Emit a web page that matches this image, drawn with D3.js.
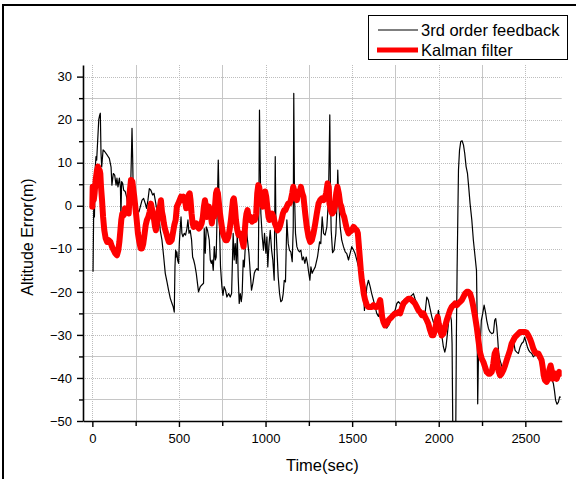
<!DOCTYPE html>
<html><head><meta charset="utf-8">
<script src="https://cdn.jsdelivr.net/npm/d3@7"></script>
<style>body{margin:0;background:#fff}svg{display:block}text{font-family:"Liberation Sans",Arial,sans-serif}</style>
</head><body><svg id="c" width="576" height="479"></svg>
<script>
const xTicks=[0,500,1000,1500,2000,2500];
const xMinor=[250,750,1250,1750,2250];
const yTicks=[-50,-40,-30,-20,-10,0,10,20,30];
const yMinor=[-45,-35,-25,-15,-5,5,15,25];
const seriesNames=["3rd order feedback","Kalman filter"];
const xTitle="Time(sec)", yTitle="Altitude Error(m)";

const fbTime=[4,8,12,17,21,25,31,37,42,46,50,54,62,71,85,98,108,113,121,129,137,142,148,156,162,165,169,175,181,190,198,204,210,219,225,229,233,237,246,258,269,277,287,296,306,313,321,329,338,348,356,363,371,379,387,392,402,412,421,431,440,450,460,467,473,477,481,485,488,492,498,502,508,512,517,523,531,538,546,552,558,565,573,579,585,592,600,613,623,642,646,652,658,665,675,681,687,692,698,704,710,715,723,727,731,735,740,748,754,761,769,777,787,796,804,810,813,819,825,831,837,842,848,854,860,865,871,877,883,888,896,904,912,919,927,935,942,950,958,962,965,969,973,981,988,994,1002,1008,1013,1019,1027,1035,1042,1050,1056,1060,1065,1073,1081,1088,1096,1102,1108,1115,1123,1131,1138,1146,1154,1160,1163,1167,1173,1181,1188,1196,1204,1212,1219,1227,1235,1242,1250,1256,1262,1269,1277,1287,1300,1312,1319,1327,1335,1344,1354,1363,1367,1371,1375,1379,1387,1396,1406,1412,1417,1423,1431,1440,1450,1460,1469,1479,1488,1498,1508,1517,1527,1537,1546,1556,1565,1571,1577,1585,1594,1604,1613,1623,1633,1642,1652,1662,1671,1681,1690,1700,1710,1719,1729,1738,1748,1758,1767,1777,1786,1796,1806,1815,1825,1835,1844,1854,1863,1873,1883,1892,1902,1912,1921,1931,1940,1950,1960,1969,1979,1988,1998,2004,2012,2019,2027,2035,2042,2050,2058,2065,2073,2077,2083,2097,2102,2106,2110,2114,2120,2127,2135,2143,2150,2158,2166,2173,2181,2191,2200,2210,2218,2221,2225,2229,2233,2239,2246,2254,2262,2270,2277,2287,2296,2306,2316,2323,2329,2335,2341,2346,2354,2370,2390,2405,2421,2431,2441,2450,2460,2470,2479,2489,2496,2504,2512,2520,2527,2537,2546,2556,2566,2575,2585,2595,2604,2614,2623,2633,2643,2652,2662,2668,2675,2683,2691,2698,2704];
const fbErr=[-15.3,-0.2,-2.6,9,11.4,10.6,15.3,20,21,21.5,12.2,9,13,12.6,11.8,11,9,4.8,7.5,7.1,4.8,6.4,4.4,6.4,4.4,-2.6,5.6,5.2,3.6,3.3,2,0.5,-0.2,1.3,10.6,18,10.6,0.5,-1.8,-1,-1.4,-0.2,1.3,1.7,0.5,-0.6,1.3,4,3.6,2.5,2.9,1.3,-0.6,-2.6,-3.3,-5.7,-8,-11.9,-15.7,-17.7,-19.6,-21.5,-22.7,-23.5,-24.7,-14.2,-10.3,-11.9,-10.7,-12.6,-13.4,-8.8,-4.9,-2.6,-6.4,-7.2,-6.4,-6.8,-5.3,-3.3,-6.4,-5.7,-8,-11.9,-12.6,-13.8,-15.7,-20,-18.8,-18,-5.3,-11,-4.9,-5.7,-8,-12.6,-13.4,-12.6,-15,-9.5,-12.6,-11.9,2.9,10.6,2.9,-6.4,-14.2,-18.8,-20.8,-18.8,-19.6,-21.2,-20.4,-21.2,-20.4,-11,-6.4,-12.6,-8.8,-13.4,-6.4,-16.5,-22.7,-20.4,-22.3,-20.4,-12.6,-14.2,-9.5,-4.9,-8,-11,-15.7,-19.6,-18,-15.7,-15,-14.6,-15,2.9,22.2,10.6,-1.8,-7.2,-10.3,-6.4,-11,-7.2,-14.2,-9.5,-5.7,-10.3,-12.6,-17.3,11.4,-4.9,-9.5,-16.5,-20.4,-22.3,-21.9,-20.4,-17.3,-17.7,-3.3,-8.8,-10.3,-10.7,-13,-4.9,26.1,2.9,-6.4,-9.5,-10.3,-10.7,-10.3,-12.6,-11.9,-13.4,-11.9,-13.4,-15.7,-17.3,-14.2,-15.7,-15,-14.2,-11.9,-8.4,-8.8,-2.6,-6.4,-6.8,-4.9,1.3,10.6,21.1,2.9,-5.7,-10.9,-10.3,-6.4,-0.2,8.3,0.5,-4.9,-8,-9.5,-10.7,-11.1,-12.6,-11.1,-9.5,-10.3,-11.1,-12.6,-14.2,-15.7,-17.3,-19.6,-24.3,-21.9,-18.8,-17.3,-18.8,-20.4,-21.9,-23.5,-25,-25.7,-24.3,-25,-27,-28.1,-28.4,-27.8,-27,-25.8,-25,-24.3,-22.7,-22.3,-22.7,-23.5,-21.9,-23.1,-21.9,-21.6,-21.2,-20.8,-20.4,-21.6,-22.7,-23.9,-24.7,-25.4,-25.8,-25,-21.2,-21.9,-23.9,-25.8,-27,-27.4,-27,-24.3,-25.8,-28.1,-30.5,-32.8,-34,-32.8,-29.7,-26.6,-25,-26.6,-32,-60,-60,-30,-15,-3.3,8.3,12.9,14.9,15.1,14.1,12.2,9.1,7.5,4.4,0.5,-3.3,-8,-11.9,-15,-23.5,-46,-35.9,-34.3,-32.8,-26.6,-25,-23.1,-24.7,-26.6,-28.5,-29.3,-29.7,-29.5,-26.6,-26.2,-28.1,-31.2,-34.3,-35.9,-38,-37,-35,-32.8,-31.2,-33.6,-34,-34.3,-32.8,-32,-31.6,-30.5,-31.6,-32.8,-33.6,-34,-34.3,-35.1,-34.7,-34.3,-35.5,-35.9,-37.1,-39,-40.2,-40.5,-40.2,-39.8,-40.2,-41.3,-42.9,-45.2,-46.1,-45.6,-44.4,-44.5];

const kfTime=[0,2,8,13,19,27,33,38,42,46,50,56,62,69,77,85,94,104,113,123,133,142,150,156,162,167,173,181,188,196,204,210,215,223,231,237,242,248,256,263,271,279,287,294,302,308,315,323,331,338,346,354,362,367,373,379,385,390,396,402,408,413,419,427,435,442,450,458,465,473,481,488,496,504,512,519,527,535,542,550,556,562,567,573,579,585,592,600,608,615,623,631,638,644,650,656,662,667,673,679,685,690,696,702,708,714,719,725,731,737,742,748,754,761,769,777,785,792,800,806,812,817,823,829,837,844,852,860,867,873,879,885,890,896,902,908,915,923,931,938,946,952,958,963,969,977,985,992,998,1004,1010,1017,1023,1031,1038,1046,1054,1062,1069,1077,1085,1092,1100,1108,1115,1123,1131,1138,1146,1154,1160,1165,1173,1181,1188,1196,1204,1212,1219,1229,1238,1248,1258,1267,1277,1287,1296,1306,1315,1325,1335,1344,1350,1358,1365,1369,1377,1385,1392,1400,1408,1415,1423,1431,1438,1446,1454,1462,1469,1479,1488,1498,1508,1517,1527,1533,1538,1544,1550,1556,1562,1567,1575,1585,1594,1604,1613,1623,1633,1642,1652,1662,1667,1673,1681,1690,1700,1710,1719,1729,1738,1748,1758,1767,1777,1786,1796,1806,1815,1825,1835,1844,1854,1863,1873,1883,1892,1902,1912,1921,1931,1940,1950,1960,1969,1979,1988,1994,2000,2008,2017,2027,2036,2046,2056,2065,2075,2085,2094,2104,2113,2123,2133,2142,2152,2162,2171,2181,2190,2200,2210,2219,2229,2238,2248,2258,2267,2277,2287,2296,2306,2315,2323,2331,2337,2344,2354,2363,2373,2383,2392,2402,2411,2421,2431,2440,2450,2460,2469,2479,2488,2498,2508,2517,2527,2537,2546,2556,2565,2575,2585,2594,2600,2606,2613,2623,2633,2638,2646,2652,2658,2665,2673,2681,2688,2696,2702];
const kfErr=[-0.2,4.4,1.3,2.9,6,8.3,9.1,6.7,8.3,7.5,4.4,1.3,-2.6,-5.7,-7.6,-8.4,-8,-8.4,-9.5,-10.3,-11.1,-11.5,-10.3,-8.4,-5.7,-3.3,-1.8,-2.2,-0.6,-1.4,-0.6,-1.8,2.9,6,5.6,3.6,2.1,-0.2,-3.3,-6.4,-8.4,-9.9,-9.9,-8.8,-6.4,-4.5,-3.3,-2.6,-1.4,0.5,-1,-2.6,-4.9,-5.7,-4.1,-2.6,-0.6,-0.2,1.3,-1.4,-2.6,-4.1,-5.3,-6.4,-7.6,-8.4,-8.4,-8,-6.4,-4.5,-3.3,-0.2,0.5,1.3,2.1,1.3,2.1,1.3,-0.6,1.3,2.5,2.9,1.3,-1.8,-4.1,-4.9,-4.5,-4.1,-4.9,-5.3,-4.9,-4.1,-2.6,-0.2,1.3,-0.2,-2.6,-1,-0.2,-1.4,-2.6,-4.1,-1.8,-2.6,-0.2,2.9,3.6,2.9,0.5,-1.8,-3.3,-4.9,-6.4,-7.2,-8,-8,-7.2,-5.7,-3.3,-1,1.3,1.7,-0.2,-3.3,-5.7,-6.8,-6.4,-7.2,-8.4,-9.5,-6.4,-3.3,-1.8,-1,-2.6,-3.3,-2.6,-3.7,-2.9,-3.3,-1.8,2.9,4.8,4.4,2.9,0.5,-0.2,2.1,3.3,2.1,-0.2,-2.6,-3.3,-2.6,-1.8,-2.6,-4.1,-4.9,-5.7,-5.3,-4.5,-3.3,-1.8,-1,-1,-0.2,0.5,0.5,1.3,2.9,4.4,3.6,2.9,1.3,3.3,2.9,4.4,2.9,2.1,-1.8,-4.9,-7.2,-8.4,-8,-6.4,-4.1,-1.8,0.5,1.3,1.7,1.3,2.1,2.9,5.2,4.4,0.5,-1,-1.8,-1.4,-0.2,2.9,4.4,2.9,0.5,-0.2,-1.8,-2.6,-4.1,-5.3,-6.4,-6,-5.7,-4.9,-5.3,-5.7,-6.4,-8.8,-11.9,-15,-17.3,-18.8,-20.4,-21.9,-23.1,-23.5,-23.5,-23.5,-23.1,-23.5,-23.5,-23.1,-21.9,-23.5,-25.8,-27,-27.8,-27.4,-26.6,-26.2,-25.8,-25.4,-25,-25,-24.7,-25,-23.9,-22.7,-22.3,-21.9,-21.6,-21.6,-21.9,-22.3,-22.7,-23.5,-24.3,-24.7,-25.4,-25,-25.8,-26.6,-27.4,-28.9,-30.1,-30.1,-28.9,-26.6,-25.8,-27.4,-28.9,-30.1,-29.7,-28.1,-26.6,-25.4,-24.3,-23.5,-23.1,-22.7,-23.1,-22.7,-22.3,-21.9,-21.2,-20.4,-20,-20,-20.4,-21.6,-23.5,-25.8,-28.1,-31.2,-34,-35.5,-36.3,-37.4,-38.6,-39,-39,-38.6,-36.7,-34.3,-33.6,-35.9,-38.2,-39.4,-39,-38.2,-37.1,-35.9,-34.7,-33.6,-32,-31.2,-30.5,-30.1,-29.7,-29.3,-29.3,-29.3,-29.3,-29.5,-30.1,-30.9,-32,-33.2,-34,-34.3,-34.3,-35.1,-35.9,-37.4,-39.4,-40.5,-40.9,-40.2,-38.2,-37.1,-38.2,-40.2,-39.8,-39,-40.2,-39.4,-38.6,-39];

const svg=d3.select("#c");
const L=83,R=561.7,T=65,B=421;
const x=d3.scaleLinear().domain([-54,2710]).range([L,R]);
const y=d3.scaleLinear().domain([-50,32.7]).range([B,T]);
const px=v=>Math.round(x(v))+0.5, py=v=>Math.round(y(v))+0.5;

svg.append("rect").attr("x",3).attr("y",5).attr("width",590).attr("height",490)
  .attr("fill","#fff").attr("stroke","#000").attr("stroke-width",2);

const grid=svg.append("g");
grid.selectAll(".vmn").data(xMinor).join("line").attr("x1",px).attr("x2",px).attr("y1",T).attr("y2",B)
  .attr("stroke","#c6c6c6").attr("stroke-width",1);
grid.selectAll(".vmj").data(xTicks).join("line").attr("x1",px).attr("x2",px).attr("y1",T).attr("y2",B)
  .attr("stroke","#bdbdbd").attr("stroke-width",1).attr("stroke-dasharray","1,1");
grid.selectAll(".hmn").data(yMinor).join("line").attr("y1",py).attr("y2",py).attr("x1",L).attr("x2",R)
  .attr("stroke","#c6c6c6").attr("stroke-width",1);
grid.selectAll(".hmj").data(yTicks.filter(d=>d>-50)).join("line").attr("y1",py).attr("y2",py).attr("x1",L).attr("x2",R)
  .attr("stroke","#bdbdbd").attr("stroke-width",1).attr("stroke-dasharray","1,1");

svg.append("clipPath").attr("id","clip").append("rect").attr("x",L).attr("y",T).attr("width",R-L).attr("height",B-T);
const line=d3.line().x(d=>x(d[0])).y(d=>y(d[1]));
const fb=fbTime.map((t,i)=>[t,fbErr[i]]);
const kf=kfTime.map((t,i)=>[t,kfErr[i]]);
const plot=svg.append("g").attr("clip-path","url(#clip)");
plot.append("path").datum(fb).attr("d",line).attr("fill","none").attr("stroke","#000").attr("stroke-width",1.2).attr("stroke-linejoin","round");
plot.append("path").datum(kf).attr("d",line).attr("fill","none").attr("stroke","#ff0000").attr("stroke-width",6).attr("stroke-linejoin","round").attr("stroke-linecap","round");

function styleAxis(g){
  g.select(".domain").attr("stroke","#000").attr("stroke-width",1.6);
  g.selectAll(".tick line").attr("stroke","#000").attr("stroke-width",1.4);
  g.selectAll(".tick text").attr("fill","#000").style("font-size","13px").style("font-family","'Liberation Sans',Arial,sans-serif");
}
const yMin=svg.append("g").attr("transform",`translate(${L},0)`).call(d3.axisLeft(y).tickValues(yMinor).tickSize(4).tickFormat(""));
yMin.select(".domain").remove(); yMin.selectAll(".tick line").attr("stroke","#000").attr("stroke-width",1.4);
const xMin=svg.append("g").attr("transform",`translate(0,${B})`).call(d3.axisBottom(x).tickValues(xMinor).tickSize(5).tickFormat(""));
xMin.select(".domain").remove(); xMin.selectAll(".tick line").attr("stroke","#000").attr("stroke-width",1.4);
svg.append("g").attr("transform",`translate(${L},0)`).call(d3.axisLeft(y).tickValues(yTicks).tickSize(6).tickSizeOuter(0).tickPadding(5).tickFormat(d3.format("d"))).call(styleAxis);
svg.append("g").attr("transform",`translate(0,${B})`).call(d3.axisBottom(x).tickValues(xTicks).tickSize(6).tickSizeOuter(0).tickPadding(7).tickFormat(d3.format("d"))).call(styleAxis);

svg.append("text").attr("transform",`translate(27,${(T+B)/2-6}) rotate(-90)`).attr("text-anchor","middle").attr("dy","0.35em")
  .style("font-size","16px").text(yTitle);
svg.append("text").attr("x",(L+R)/2).attr("y",471).attr("text-anchor","middle").style("font-size","16.5px").text(xTitle);

const lg=svg.append("g");
lg.append("rect").attr("x",368.5).attr("y",15.5).attr("width",199).attr("height",44).attr("fill","#fff").attr("stroke","#000").attr("stroke-width",1);
const lgColors=["#000","#ff0000"], lgW=[1.2,5];
seriesNames.forEach((n,i)=>{
  const yy=30+i*20;
  lg.append("line").attr("x1",i?377:378).attr("x2",418).attr("y1",yy).attr("y2",yy).attr("stroke",lgColors[i]).attr("stroke-width",lgW[i]);
  lg.append("text").attr("x",421).attr("y",yy+5.5).style("font-size","16.5px").text(n);
});
</script></body></html>
